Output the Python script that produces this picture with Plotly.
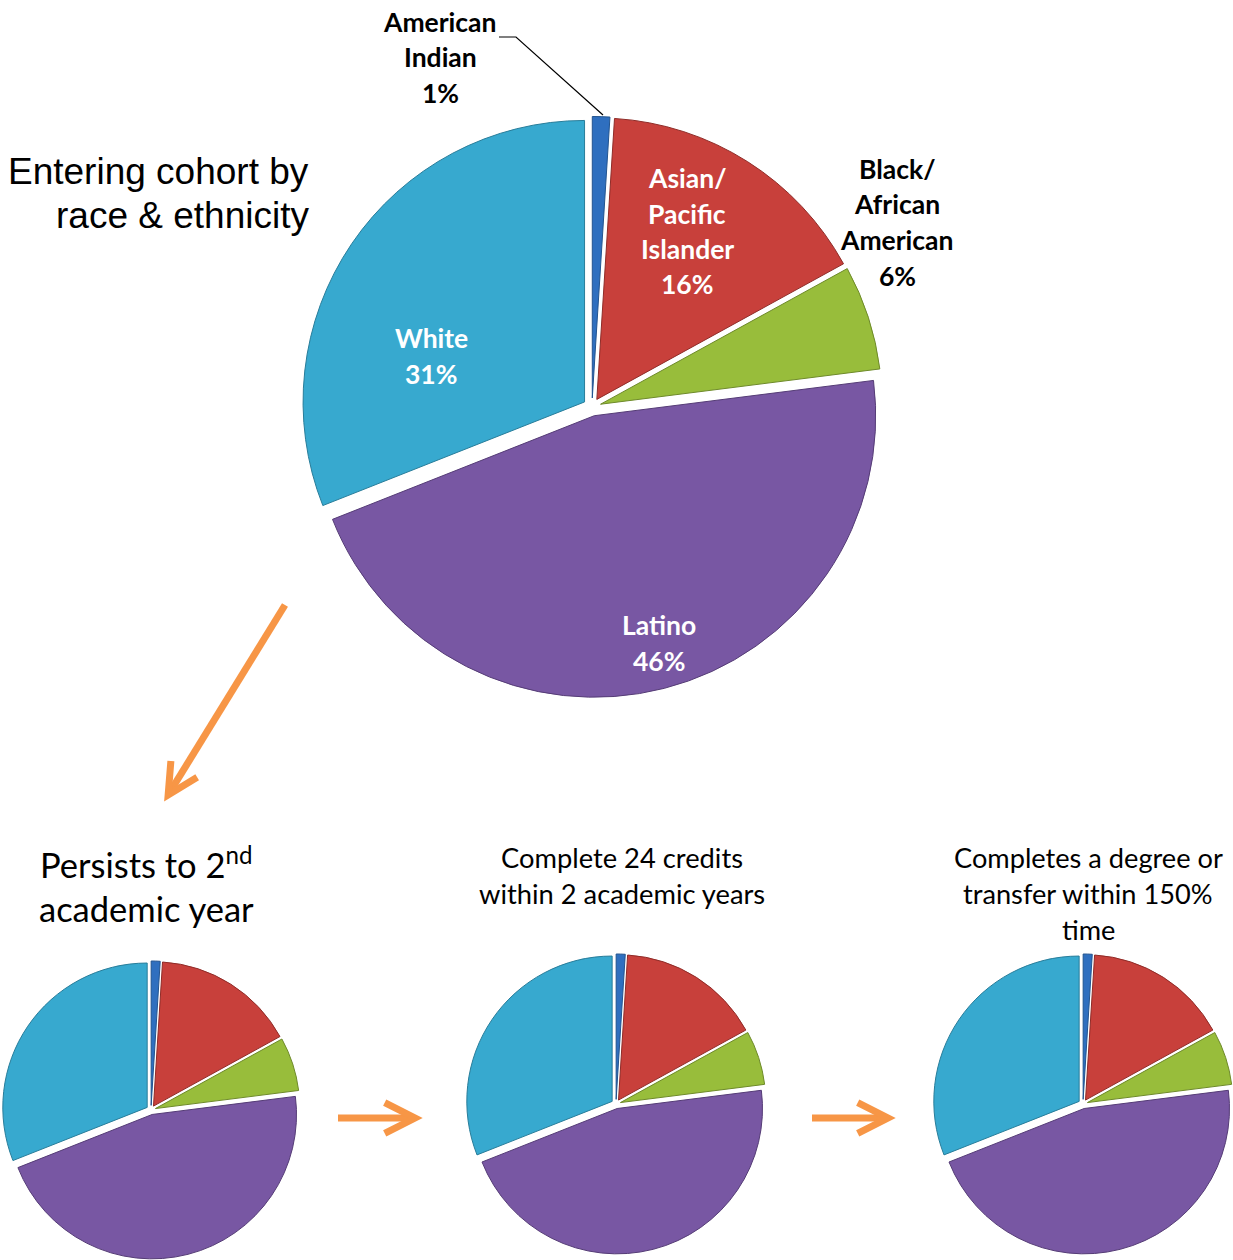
import math
import plotly.graph_objects as go

# ---------------- data ----------------
groups = ["American Indian", "Asian/ Pacific Islander", "Black/ African American", "Latino", "White"]
group_label_lines = [["American", "Indian"], ["Asian/", "Pacific", "Islander"],
                     ["Black/", "African", "American"], ["Latino"], ["White"]]
cohort_pct = [1, 16, 6, 46, 31]          # entering cohort by race & ethnicity
persist_pct = [1, 16, 6, 46, 31]         # persists to 2nd academic year
credits_pct = [1, 16, 6, 46, 31]         # complete 24 credits within 2 academic years
completion_pct = [1, 16, 6, 46, 31]      # completes a degree or transfer within 150% time

main_title_lines = ["Entering cohort by", "race & ethnicity"]
milestone_titles = [
    ["Persists to 2<sup>nd</sup>", "academic year"],
    ["Complete 24 credits", "within 2 academic years"],
    ["Completes a degree or", "transfer within 150%", "time"],
]

# ---------------- style ----------------
colors = ["#2f6fbf", "#c8403b", "#98bd3b", "#7857a3", "#37a9cf"]
edge_colors = ["#23548f", "#8f2c28", "#6e8a2a", "#553c76", "#287d9a"]
label_text_colors = ["black", "white", "black", "white", "white"]
ORANGE = "#f79646"

W, H = 1233, 1260


def px(x):
    return x / W


def py(y):
    return 1 - y / H


def clamp(v):
    return min(1.0, max(0.0, v))


def domain(cx, cy, size):
    return dict(x=[clamp(px(cx - size / 2)), clamp(px(cx + size / 2))],
                y=[clamp(py(cy + size / 2)), clamp(py(cy - size / 2))])


fig = go.Figure()

pies = [
    (cohort_pct, (592, 407), 581),
    (persist_pct, (151, 1110), 298),
    (credits_pct, (616, 1104), 300),
    (completion_pct, (1083, 1104), 300),
]
for vals, (cx, cy), size in pies:
    fig.add_trace(go.Pie(
        labels=groups, values=vals, sort=False, direction="clockwise", rotation=0,
        pull=[0.032] * len(vals),
        marker=dict(colors=colors, line=dict(color=edge_colors, width=1)),
        textinfo="none", hoverinfo="label+percent",
        domain=domain(cx, cy, size), showlegend=False,
    ))

annotations = []

# slice labels on main pie (text built from the data)
label_pos = [(440, 22), (687, 178), (897, 169), (659, 625), (431, 338)]
LINE_H = 35.5
for i, g in enumerate(groups):
    lines = group_label_lines[i] + [f"{cohort_pct[i]}%"]
    x0, y0 = label_pos[i]
    for k, ln in enumerate(lines):
        annotations.append(dict(
            x=px(x0), y=py(y0 + k * LINE_H), xref="paper", yref="paper",
            text=f"<b>{ln}</b>", showarrow=False, xanchor="center", yanchor="middle",
            font=dict(family="Lato", size=26.5, color=label_text_colors[i]),
        ))

# main title
for k, ln in enumerate(main_title_lines):
    annotations.append(dict(
        x=px(311), y=py(172 + k * 43), xref="paper", yref="paper", text=ln,
        showarrow=False, xanchor="right", yanchor="middle",
        font=dict(family="Liberation Sans, Arial", size=37, color="black"),
    ))

# milestone titles
title_specs = [((146, 862), 46, 34.5), ((622, 857), 36, 27.3), ((1088, 857), 36, 27.2)]
for lines, ((x0, y0), lh, fs) in zip(milestone_titles, title_specs):
    for k, ln in enumerate(lines):
        annotations.append(dict(
            x=px(x0), y=py(y0 + k * lh), xref="paper", yref="paper", text=ln,
            showarrow=False, xanchor="center", yanchor="middle",
            font=dict(family="Lato", size=fs, color="black"),
        ))

shapes = []

# orange arrows (shaft + open chevron head), drawn in pixel space then mapped to paper
arrows = [((285, 605), (165, 800)), ((338, 1118), (421, 1118)), ((812, 1118), (894, 1118))]
ARM, ANG, TIP_BACK = 34, math.radians(27), 6
for (tx, ty), (hx, hy) in arrows:
    dx, dy = tx - hx, ty - hy
    n = math.hypot(dx, dy)
    ux, uy = dx / n, dy / n
    hx, hy = hx + TIP_BACK * ux, hy + TIP_BACK * uy  # compensate miter overshoot
    arms = []
    for s in (1, -1):
        c, si = math.cos(s * ANG), math.sin(s * ANG)
        ax, ay = ux * c - uy * si, ux * si + uy * c
        arms.append((hx + ARM * ax, hy + ARM * ay))
    shapes.append(dict(type="line", xref="paper", yref="paper",
                       x0=px(tx), y0=py(ty), x1=px(hx + 2 * ux), y1=py(hy + 2 * uy),
                       line=dict(color=ORANGE, width=7)))
    shapes.append(dict(
        type="path", xref="paper", yref="paper",
        path=(f"M {px(arms[0][0])} {py(arms[0][1])} L {px(hx)} {py(hy)} "
              f"L {px(arms[1][0])} {py(arms[1][1])}"),
        line=dict(color=ORANGE, width=7)))

# leader line for the American Indian label
shapes.append(dict(
    type="path", xref="paper", yref="paper",
    path=f"M {px(499)} {py(37)} L {px(516)} {py(37)} L {px(603)} {py(115)}",
    line=dict(color="black", width=1.2),
))

fig.update_layout(
    width=W, height=H, margin=dict(l=0, r=0, t=0, b=0),
    paper_bgcolor="white", plot_bgcolor="white",
    annotations=annotations, shapes=shapes,
)

fig.write_html("out.html")
